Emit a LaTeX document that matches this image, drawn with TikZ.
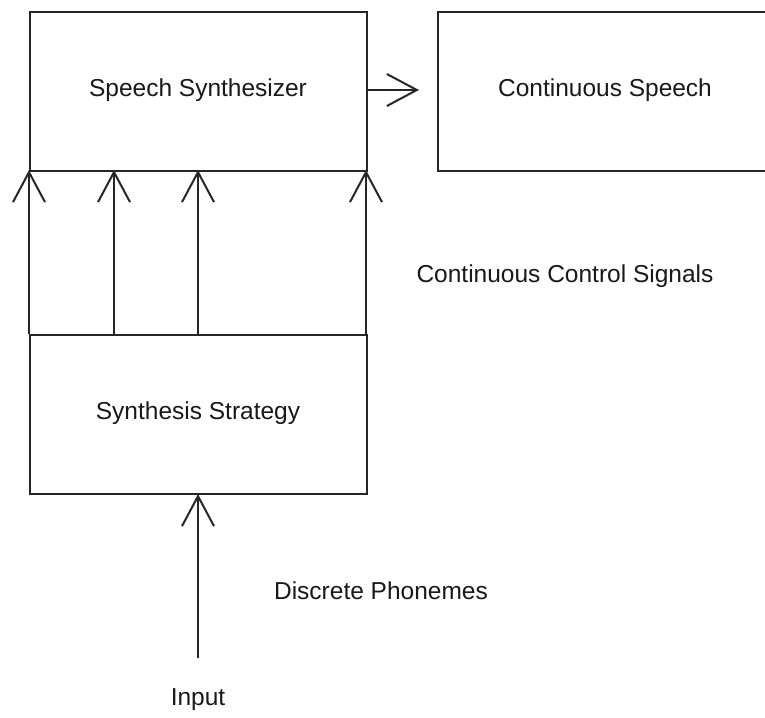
\documentclass[tikz,border=0pt]{standalone}
\usepackage{fontspec}
\setmainfont{Liberation Sans}
\usetikzlibrary{arrows.meta}
\begin{document}
\begin{tikzpicture}[x=1pt,y=-1pt,
  box/.style={draw=black!85,line width=2pt,minimum width=337pt,minimum height=159pt,anchor=north west,inner sep=0pt},
  lbl/.style={font=\fontsize{24.5}{28}\selectfont,text=black!90},
  arr/.style={line width=2pt,draw=black!85,-{Straight Barb[length=30pt,width=32pt,line width=2pt]}}]
\useasboundingbox (0,0) rectangle (765,717);
\begin{scope}
\clip (0,0) rectangle (765,717);
\node[box] (ss) at (29,11) {};
\node[lbl] at (198,90) {Speech Synthesizer};
\node[box,minimum width=360pt] (cs) at (437,11) {};
\node[lbl] at (605,90) {Continuous Speech};
\node[box] (st) at (29,334) {};
\node[lbl] at (198,413) {Synthesis Strategy};
\end{scope}
\coordinate (a1) at (29,334); \coordinate (b1) at (29,170);
\coordinate (a2) at (114,334); \coordinate (b2) at (114,170);
\coordinate (a3) at (198,334); \coordinate (b3) at (198,170);
\coordinate (a4) at (366,334); \coordinate (b4) at (366,170);
\draw[arr] (a1) -- (b1);
\draw[arr] (a2) -- (b2);
\draw[arr] (a3) -- (b3);
\draw[arr] (a4) -- (b4);
\coordinate (o1) at (366,90); \coordinate (o2) at (419,90);
\draw[arr] (o1) -- (o2);
\coordinate (in) at (198,658); \coordinate (inT) at (198,494);
\draw[arr] (in) -- (inT);
\node[lbl] (inp) at (198,700) {Input};
\node[lbl] (cc) at (565,276) {Continuous Control Signals};
\node[lbl] (dp) at (381,591) {Discrete Phonemes};
\end{tikzpicture}
\end{document}
